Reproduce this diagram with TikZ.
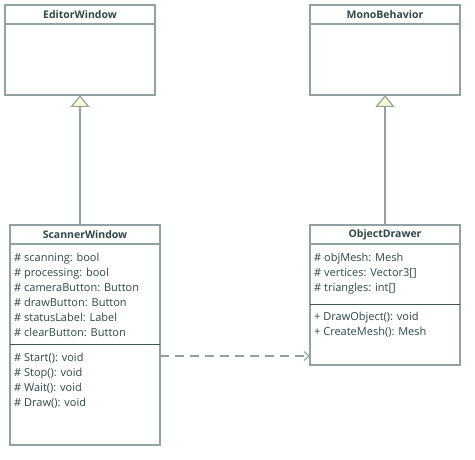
\documentclass[tikz,border=0pt]{standalone}
\usepackage{fontspec}
\setmainfont{Open Sans}
\usetikzlibrary{arrows.meta}

\definecolor{umlborder}{HTML}{8FA3A3}
\definecolor{umltext}{HTML}{2E4848}
\definecolor{umlsep}{HTML}{3C5555}
\definecolor{umltri}{HTML}{FAFAD2}

\tikzset{
    classbox/.style={draw=umlborder, line width=1.2pt, fill=white,
        minimum width=150pt, inner sep=0pt, outer sep=0pt},
    classname/.style={font=\fontsize{10.5}{13}\selectfont\bfseries, text=umltext},
    members/.style={font=\fontsize{11}{15}\selectfont, text=umltext,
        align=left, anchor=north west, inner sep=0pt},
    headline/.style={draw=umlborder, line width=1.2pt},
    sepline/.style={draw=umlsep, line width=0.9pt},
    inherits/.style={draw=umlborder, line width=1.2pt,
        -{Triangle[length=12pt, width=19pt, fill=umltri]}},
    uses/.style={draw=umlborder, line width=1.2pt, dash pattern=on 9pt off 6pt,
        -{Straight Barb[length=5pt, width=9pt]}},
}

\begin{document}
\begin{tikzpicture}[x=1pt, y=-1pt]
\useasboundingbox (0,0) rectangle (475,460);

%% Base classes
\node[classbox, minimum height=90pt] (editor) at (80,50) {};
\node[classbox, minimum height=90pt] (mono) at (385,50) {};

%% Own classes
\node[classbox, minimum height=220pt] (scanner) at (85,335) {};
\node[classbox, minimum height=140pt] (drawer) at (385,295) {};

%% Headers
\foreach \cls/\title in {editor/EditorWindow, mono/MonoBehavior,
        scanner/ScannerWindow, drawer/ObjectDrawer} {
    \node[classname] (\cls-title) at ([yshift=-9.5pt]\cls.north) {\title};
    \draw[headline] ([yshift=-19pt]\cls.north west) -- ([yshift=-19pt]\cls.north east);
}

%% Members
\node[members] (scanner-attr) at ([xshift=4pt, yshift=-27.5pt]scanner.north west)
    {\# scanning: bool\\ \# processing: bool\\ \# cameraButton: Button\\
     \# drawButton: Button\\ \# statusLabel: Label\\ \# clearButton: Button};
\draw[sepline] ([yshift=-119pt]scanner.north west) -- ([yshift=-119pt]scanner.north east);
\node[members] (scanner-ops) at ([xshift=4pt, yshift=-127.5pt]scanner.north west)
    {\# Start(): void\\ \# Stop(): void\\ \# Wait(): void\\ \# Draw(): void};

\node[members] (drawer-attr) at ([xshift=4pt, yshift=-27.5pt]drawer.north west)
    {\# objMesh: Mesh\\ \# vertices: Vector3[]\\ \# triangles: int[]};
\draw[sepline] ([yshift=-79pt]drawer.north west) -- ([yshift=-79pt]drawer.north east);
\node[members] (drawer-ops) at ([xshift=4pt, yshift=-86.5pt]drawer.north west)
    {+ DrawObject(): void\\ + CreateMesh(): Mesh};

%% Relations
\draw[inherits] (scanner.north -| editor.south) -- (editor.south);
\draw[inherits] (drawer.north) -- (mono.south);
\draw[uses] ([yshift=-21pt]scanner.east) -- ([yshift=-21pt]scanner.east -| drawer.west);
\end{tikzpicture}
\end{document}
